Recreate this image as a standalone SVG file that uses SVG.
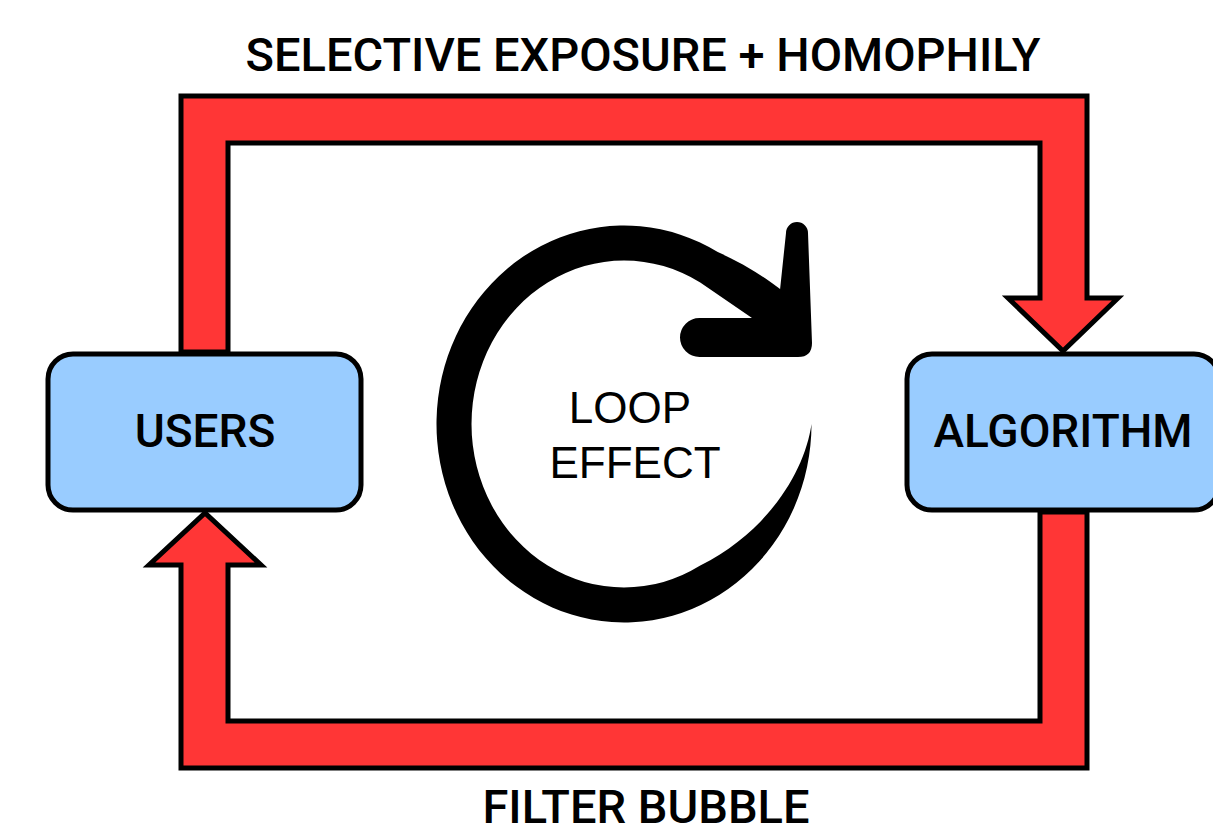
<svg xmlns="http://www.w3.org/2000/svg" width="1213" height="840" viewBox="0 0 1213 840">
  <defs>
    <style>
      .band { fill: #ff3636; stroke: #000; stroke-width: 5; stroke-linejoin: miter; }
      .box { fill: #99ccff; stroke: #000; stroke-width: 5; }
      .label { font-family: Roboto, "Liberation Sans", sans-serif; font-weight: 500; font-size: 46px; fill: #000; text-anchor: middle; }
      .title { font-family: Roboto, "Liberation Sans", sans-serif; font-weight: 500; font-size: 47px; fill: #000; text-anchor: middle; }
      .loop-text { font-family: "Liberation Sans", Arial, sans-serif; font-size: 44px; fill: #000; text-anchor: middle; }
      .icon { fill: #000; }
    </style>
    <filter id="soft" x="-5%" y="-5%" width="110%" height="110%">
      <feGaussianBlur stdDeviation="0.7"/>
    </filter>
  </defs>

  <rect width="1213" height="840" fill="#fff"/>

  <!-- feedback connectors -->
  <g id="connectors">
    <!-- users to algorithm, over the top -->
    <path id="edge-top" class="band" d="M 181 352 L 181 96 L 1087 96 L 1087 298 L 1118 298 L 1063 351 L 1008 298 L 1040 298 L 1040 143 L 228 143 L 228 352 Z"/>
    <!-- algorithm back to users, along the bottom -->
    <path id="edge-bottom" class="band" d="M 1040 512 L 1040 721 L 228 721 L 228 565 L 261 565 L 205 513 L 149 565 L 181 565 L 181 768 L 1087 768 L 1087 512 Z"/>
  </g>

  <g id="label-top">
    <text class="title" x="643" y="71">SELECTIVE EXPOSURE + HOMOPHILY</text>
  </g>
  <g id="label-bottom">
    <text class="title" x="646" y="823">FILTER BUBBLE</text>
  </g>

  <g id="node-users">
    <rect class="box" x="48" y="354" width="313" height="156" rx="25"/>
    <text class="label" x="205" y="447">USERS</text>
  </g>

  <g id="node-algorithm">
    <rect class="box" x="907" y="354" width="312" height="156" rx="25"/>
    <text class="label" x="1063" y="447">ALGORITHM</text>
  </g>

  <!-- circular loop arrow with brush-like tapered tail -->
  <g id="loop-effect">
    <g filter="url(#soft)">
      <path class="icon" d="M 811.5 424 A 187.5 198.5 0 1 1 717.75 252.1 C 742 263 765 277 784 292 L 790 335 L 752 318 L 700.25 282.4 A 152.5 163.5 0 1 0 700.25 565.6 C 770 530 805 470 811.5 424 Z"/>
      <path class="icon" d="M 786 233 A 11 11 0 0 1 808 233 L 812 343 Q 812 357 798 357 L 699.5 357 A 19.5 19.5 0 0 1 699.5 318 L 760 318 L 780 290 Z"/>
    </g>
    <text class="loop-text" x="630" y="423">LOOP</text>
    <text class="loop-text" x="635" y="478">EFFECT</text>
  </g>
</svg>
